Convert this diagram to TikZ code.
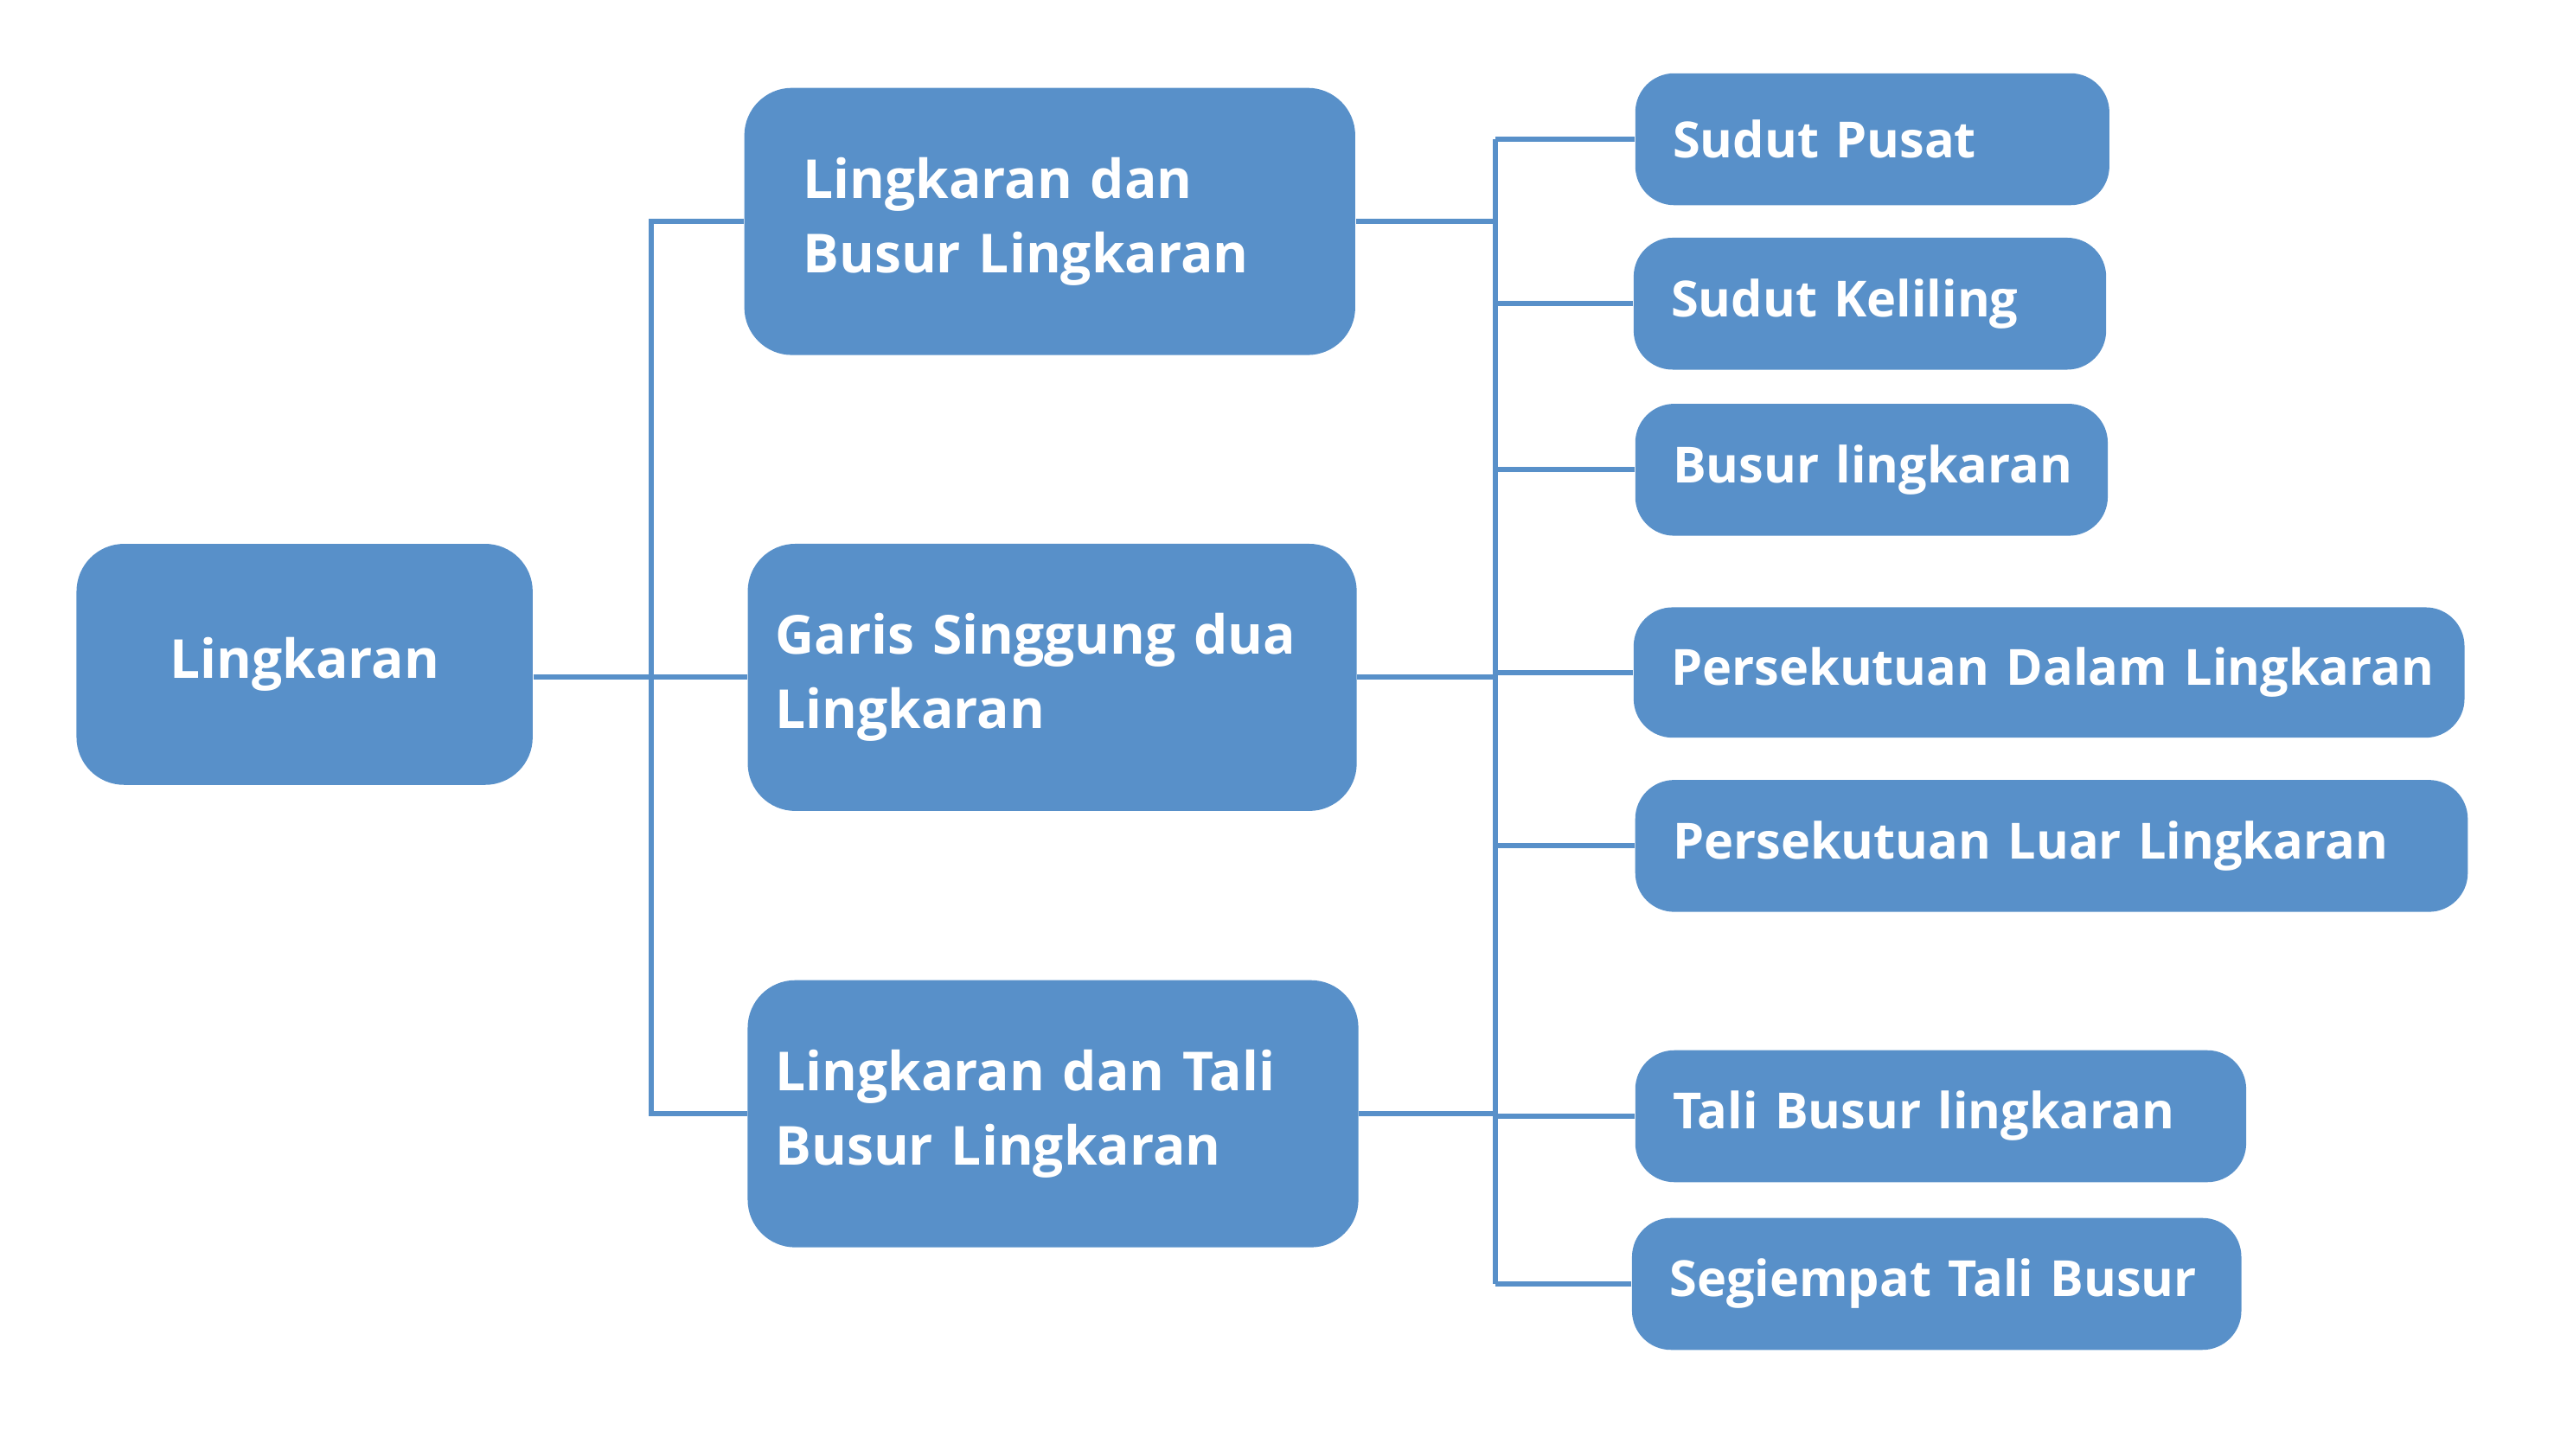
\documentclass[tikz,border=0pt]{standalone}
\usepackage{fontspec}
\setmainfont{Open Sans}

\definecolor{lkblue}{HTML}{5890C9}

\tikzset{
  box/.style={rounded corners=0.55cm, fill=lkblue, text=white, font=\bfseries\fontsize{17.7}{24.6}\selectfont, align=left, minimum height=3.089cm},
  subbox/.style={rounded corners=0.45cm, fill=lkblue, text=white, font=\bfseries\fontsize{16.4}{21}\selectfont, align=left, minimum height=1.525cm, inner xsep=0.433cm},
  link/.style={draw=lkblue, line width=1.7pt}
}

\begin{document}
\begin{tikzpicture}[x=0.018833cm, y=-0.018833cm]
                \useasboundingbox (0,0) rectangle (1568,894);
                \node[box, minimum width=5.273cm, minimum height=2.787cm, align=center] (root) at (187,408) {Lingkaran};
                \node[box, inner xsep=0.678cm, text width=5.706cm] (busur) at (644.5,136) {Lingkaran dan\\Busur Lingkaran};
                \node[box, inner xsep=0.32cm, text width=6.40cm] (garis) at (646,416) {\mbox{Garis Singgung dua}\\Lingkaran};
                \node[box, inner xsep=0.32cm, text width=6.42cm] (tali) at (646.5,684) {\mbox{Lingkaran dan Tali}\\Busur Lingkaran};
                \node[subbox, text width=4.614cm] (pusat) at (1149.5,85.5) {\mbox{Sudut Pusat}};
                \node[subbox, text width=4.596cm] (keliling) at (1148,186.5) {\mbox{Sudut Keliling}};
                \node[subbox, text width=4.596cm] (lingbusur) at (1149,288.5) {\mbox{Busur lingkaran}};
                \node[subbox, text width=8.739cm, minimum height=1.507cm] (dalam) at (1258,413) {\mbox{Persekutuan Dalam Lingkaran}};
                \node[subbox, text width=8.758cm] (luar) at (1259.5,519.5) {\mbox{Persekutuan Luar Lingkaran}};
                \node[subbox, text width=6.196cm] (talibusur) at (1191.5,685.5) {\mbox{Tali Busur lingkaran}};
                \node[subbox, text width=6.178cm] (segiempat) at (1189,788.5) {\mbox{Segiempat Tali Busur}};
                % trunks
                \coordinate (trunkL) at (400,0);
                \coordinate (trunkR) at (918,0);
                \draw[link] (root.east |- garis.west) -- (garis.west);
                \draw[link] (busur.west) -- (busur.west -| trunkL) |- (tali.west);
                \draw[link] (busur.east) -- (busur.east -| trunkR);
                \draw[link] (garis.east) -- (garis.east -| trunkR);
                \draw[link] (tali.east) -- (tali.east -| trunkR);
                \draw[link] (pusat.west -| trunkR) -- (segiempat.west -| trunkR);
                \foreach \leaf in {pusat, keliling, lingbusur, dalam, luar, talibusur, segiempat}
                    \draw[link] (\leaf.west) -- (\leaf.west -| trunkR);
            \end{tikzpicture}
\end{document}
